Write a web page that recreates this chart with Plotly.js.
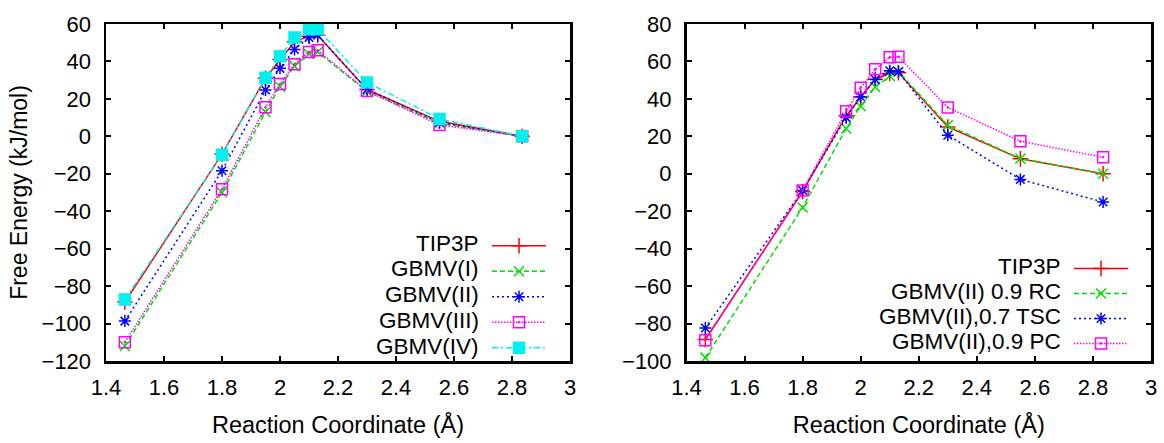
<!DOCTYPE html>
<html><head><meta charset="utf-8">
<script src="https://cdn.plot.ly/plotly-3.0.1.min.js"></script>
<style>html,body{margin:0;padding:0;background:#fff}#chart{width:1164px;height:443px}</style>
</head><body><div id="chart"></div>
<script>
// ---- data ----
const reactionCoord = [1.465, 1.8, 1.95, 2.0, 2.05, 2.1, 2.13, 2.3, 2.55, 2.835];

const leftNames = ['TIP3P', 'GBMV(I)', 'GBMV(II)', 'GBMV(III)', 'GBMV(IV)'];
const tip3p    = [-88.5, -9.5, 31.0, 41.0, 50.5, 53.5, 54.0, 25.0, 8.0, 0];
const gbmvI    = [-112.0, -30.0, 13.0, 26.5, 37.5, 44.0, 45.0, 24.0, 7.0, 0];
const gbmvII   = [-98.7, -18.4, 24.7, 36.3, 46.4, 52.8, 54.0, 25.0, 7.5, 0];
const gbmvIII  = [-110.0, -28.2, 15.5, 27.9, 38.5, 45.1, 46.0, 24.2, 6.1, 0];
const gbmvIV   = [-87.1, -9.8, 31.3, 42.8, 52.8, 57.2, 57.2, 28.8, 9.3, 0];

const rightNames = ['TIP3P', 'GBMV(II) 0.9 RC', 'GBMV(II),0.7 TSC', 'GBMV(II),0.9 PC'];
const gbmvII_RC  = [-98.2, -18.0, 24.2, 36.1, 46.4, 52.2, 54.5, 25.9, 8.1, 0];
const gbmvII_TSC = [-82.4, -8.9, 30.0, 41.1, 50.4, 55.0, 54.5, 20.6, -3.0, -15.1];
const gbmvII_PC  = [-88.9, -8.9, 33.4, 45.9, 55.8, 62.2, 62.5, 35.4, 17.4, 8.8];

const xTickVals = [1.4, 1.6, 1.8, 2.0, 2.2, 2.4, 2.6, 2.8, 3.0];
const xTickText = ['1.4', '1.6', '1.8', '2', '2.2', '2.4', '2.6', '2.8', '3'];
const yTickValsLeft = [-120, -100, -80, -60, -40, -20, 0, 20, 40, 60];
const yTickValsRight = [-100, -80, -60, -40, -20, 0, 20, 40, 60, 80];
const xTitle = 'Reaction Coordinate (Å)';
const yTitle = 'Free Energy (kJ/mol)';

// ---- styles ----
const FONT = '"Liberation Sans", Arial, Helvetica, sans-serif';
const st = {
  red:     {color: '#ff0000', dash: 'solid',             symbol: 'cross-thin-open', size: 11},
  green:   {color: '#00e000', dash: '5px,3px',           symbol: 'x-thin-open',     size: 10},
  blue:    {color: '#0000ff', dash: '2px,3px',           symbol: 'asterisk-open',   size: 10},
  magenta: {color: '#ff00ff', dash: '1.5px,1.5px',       symbol: 'square-open-dot', size: 11},
  cyan:    {color: '#00f0f0', dash: '6px,3px,2px,3px',   symbol: 'square',          size: 11}
};

function mk(y, s, xa, ya, leg) {
  return {
    x: reactionCoord, y: y, xaxis: xa, yaxis: ya, legend: leg,
    type: 'scatter', mode: 'lines+markers', name: '', showlegend: true,
    line: {color: s.color, width: 1.5, dash: s.dash},
    marker: {symbol: s.symbol, size: s.size, color: s.color, line: {color: s.color, width: 1.5}},
    hoverinfo: 'x+y'
  };
}

const traces = [
  mk(tip3p,   st.red,     'x',  'y',  'legend'),
  mk(gbmvI,   st.green,   'x',  'y',  'legend'),
  mk(gbmvII,  st.blue,    'x',  'y',  'legend'),
  mk(gbmvIII, st.magenta, 'x',  'y',  'legend'),
  mk(gbmvIV,  st.cyan,    'x',  'y',  'legend'),
  mk(tip3p,      st.red,     'x2', 'y2', 'legend2'),
  mk(gbmvII_RC,  st.green,   'x2', 'y2', 'legend2'),
  mk(gbmvII_TSC, st.blue,    'x2', 'y2', 'legend2'),
  mk(gbmvII_PC,  st.magenta, 'x2', 'y2', 'legend2')
];

// ---- layout (pixel helpers) ----
const W = 1164, H = 443, ML = 106, MR = 13, MT = 24, MB = 82;
const PW = W - ML - MR, PH = H - MT - MB;
const px = v => (v - ML) / PW;
const py = v => 1 - (v - MT) / PH;

const axBase = {
  showline: true, linewidth: 2.5, linecolor: '#000', mirror: 'ticks',
  ticks: 'inside', ticklen: 5, tickwidth: 2, tickcolor: '#000',
  showgrid: false, zeroline: false,
  tickfont: {family: FONT, size: 22, color: '#000'}
};

const annotations = [];
leftNames.forEach((n, i) => annotations.push({
  xref: 'paper', yref: 'paper', x: px(481), y: py(243 + i * 25.75),
  xanchor: 'right', yanchor: 'middle', showarrow: false, text: n,
  font: {family: FONT, size: 22.5, color: '#000'}
}));
rightNames.forEach((n, i) => annotations.push({
  xref: 'paper', yref: 'paper', x: px(1063), y: py(266 + i * 25),
  xanchor: 'right', yanchor: 'middle', showarrow: false, text: n,
  font: {family: FONT, size: 22.5, color: '#000'}
}));

const layout = {
  width: W, height: H,
  margin: {l: ML, r: MR, t: MT, b: MB, pad: 0},
  paper_bgcolor: '#fff', plot_bgcolor: '#fff',
  font: {family: FONT, color: '#000'},
  xaxis: Object.assign({}, axBase, {
    domain: [0, px(570)], range: [1.4, 3.0], tickvals: xTickVals, ticktext: xTickText,
    ticklabelstandoff: 5,
    title: {text: xTitle, font: {family: FONT, size: 23.5, color: '#000'}, standoff: 18}
  }),
  yaxis: Object.assign({}, axBase, {
    domain: [0, 1], range: [-120, 60], tickvals: yTickValsLeft, anchor: 'x',
    ticklabelstandoff: 8,
    title: {text: yTitle, font: {family: FONT, size: 23, color: '#000'}, standoff: 8}
  }),
  xaxis2: Object.assign({}, axBase, {
    domain: [px(686.5), 1], range: [1.4, 3.0], tickvals: xTickVals, ticktext: xTickText,
    anchor: 'y2', ticklabelstandoff: 5,
    title: {text: xTitle, font: {family: FONT, size: 23.5, color: '#000'}, standoff: 18}
  }),
  yaxis2: Object.assign({}, axBase, {
    domain: [0, 1], range: [-100, 80], tickvals: yTickValsRight, anchor: 'x2',
    ticklabelstandoff: 8
  }),
  legend: {
    x: px(487), y: py(228), xanchor: 'left', yanchor: 'top', itemwidth: 54,
    bgcolor: 'rgba(0,0,0,0)', borderwidth: 0,
    font: {family: FONT, size: 17.3, color: '#000'}, tracegroupgap: 0
  },
  legend2: {
    x: px(1069), y: py(251), xanchor: 'left', yanchor: 'top', itemwidth: 54,
    bgcolor: 'rgba(0,0,0,0)', borderwidth: 0,
    font: {family: FONT, size: 16.9, color: '#000'}, tracegroupgap: 0
  },
  annotations: annotations,
  showlegend: true
};

Plotly.newPlot('chart', traces, layout, {displayModeBar: false, staticPlot: true});
</script>
</body></html>
